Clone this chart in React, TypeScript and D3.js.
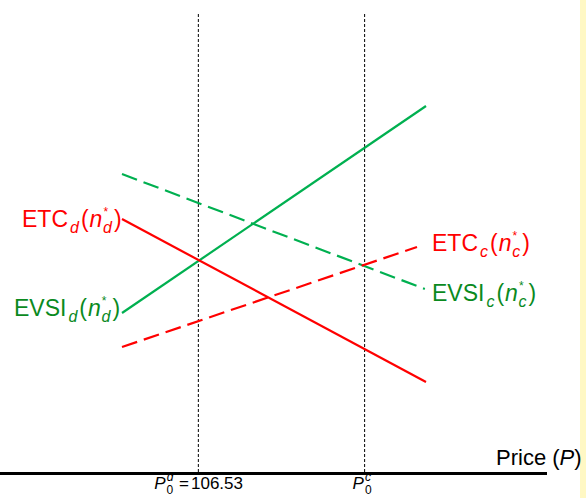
import React from 'react';
import * as d3 from 'd3';

// values (price on x, arbitrary value units on y)
const etcD: [number, number][] = [[100, 63.25], [126, 22.5]];
const evsiD: [number, number][] = [[100, 39.75], [126, 91.5]];
const etcC: [number, number][] = [[100, 31.25], [125.23, 56.25]];
const evsiC: [number, number][] = [[100, 74.5], [125.9, 45.75]];
const p0d = 106.53;
const p0c = 120.75;
const guideTop = 114.5;

const W = 586;
const H = 498;
const FONT = '"Liberation Sans", Arial, sans-serif';
const RED = '#ff0000';
const GREEN_LINE = '#00b050';
const GREEN_TEXT = '#0a8a1e';

const x = d3.scaleLinear().domain([100, 126]).range([122, 426]);
const y = d3.scaleLinear().domain([0, 118]).range([472, 0]);
const line = d3.line<[number, number]>().x(d => x(d[0])).y(d => y(d[1]));

const Label = ({ tx, ty, main, sub, color }: { tx: number; ty: number; main: string; sub: string; color: string }) => (
  <text x={tx} y={ty} fontSize={23} fill={color} fontFamily={FONT}>
    {main}
    <tspan fontSize={16} fontStyle="italic" dx={2} dy={6}>{sub}</tspan>
    <tspan dx={2} dy={-6}>(</tspan>
    <tspan fontStyle="italic" dx={1}>n</tspan>
    <tspan fontSize={12} dx={1} dy={-11}>*</tspan>
    <tspan fontSize={16} fontStyle="italic" dx={-5} dy={17}>{sub}</tspan>
    <tspan dx={2} dy={-6}>)</tspan>
  </text>
);

export default function App() {
  return (
    <svg width={W} height={H} style={{ position: 'absolute', left: 0, top: 0, background: '#fff' }}>
      <rect x={580} y={0} width={6} height={H} fill="#fff8c4" />

      {/* price guides */}
      {[p0d, p0c].map((p, i) => (
        <line key={i} x1={x(p)} x2={x(p)} y1={y(guideTop)} y2={y(0)}
          stroke="#000" strokeWidth={1} strokeDasharray="3,2" />
      ))}

      <path d={line(evsiC) || ''} fill="none" stroke={GREEN_LINE} strokeWidth={2.2} strokeDasharray="16,7" />
      <path d={line(etcC) || ''} fill="none" stroke={RED} strokeWidth={2.2} strokeDasharray="16,7" />
      <path d={line(evsiD) || ''} fill="none" stroke={GREEN_LINE} strokeWidth={2.2} />
      <path d={line(etcD) || ''} fill="none" stroke={RED} strokeWidth={2.2} />

      {/* x axis */}
      <line x1={0} x2={547} y1={y(0) + 1.5} y2={y(0) + 1.5} stroke="#000" strokeWidth={3} />
      <text x={496} y={465} fontSize={22} fontFamily={FONT}>
        Price (<tspan fontStyle="italic">P</tspan>)
      </text>

      <text x={x(p0d) - 44} y={489} fontSize={17} fontFamily={FONT}>
        <tspan fontStyle="italic">P</tspan>
        <tspan fontSize={12} fontStyle="italic" dx={1} dy={-8}>d</tspan>
        <tspan fontSize={12} dx={-7} dy={13}>0</tspan>
        <tspan dx={6} dy={-5}>=</tspan>
        <tspan dx={2}>106.53</tspan>
      </text>
      <text x={x(p0c) - 12} y={489} fontSize={17} fontFamily={FONT}>
        <tspan fontStyle="italic">P</tspan>
        <tspan fontSize={12} fontStyle="italic" dx={1} dy={-8}>c</tspan>
        <tspan fontSize={12} dx={-6} dy={13}>0</tspan>
      </text>

      <Label tx={22} ty={227} main="ETC" sub="d" color={RED} />
      <Label tx={14} ty={316} main="EVSI" sub="d" color={GREEN_TEXT} />
      <Label tx={432} ty={251} main="ETC" sub="c" color={RED} />
      <Label tx={432} ty={301} main="EVSI" sub="c" color={GREEN_TEXT} />
    </svg>
  );
}
